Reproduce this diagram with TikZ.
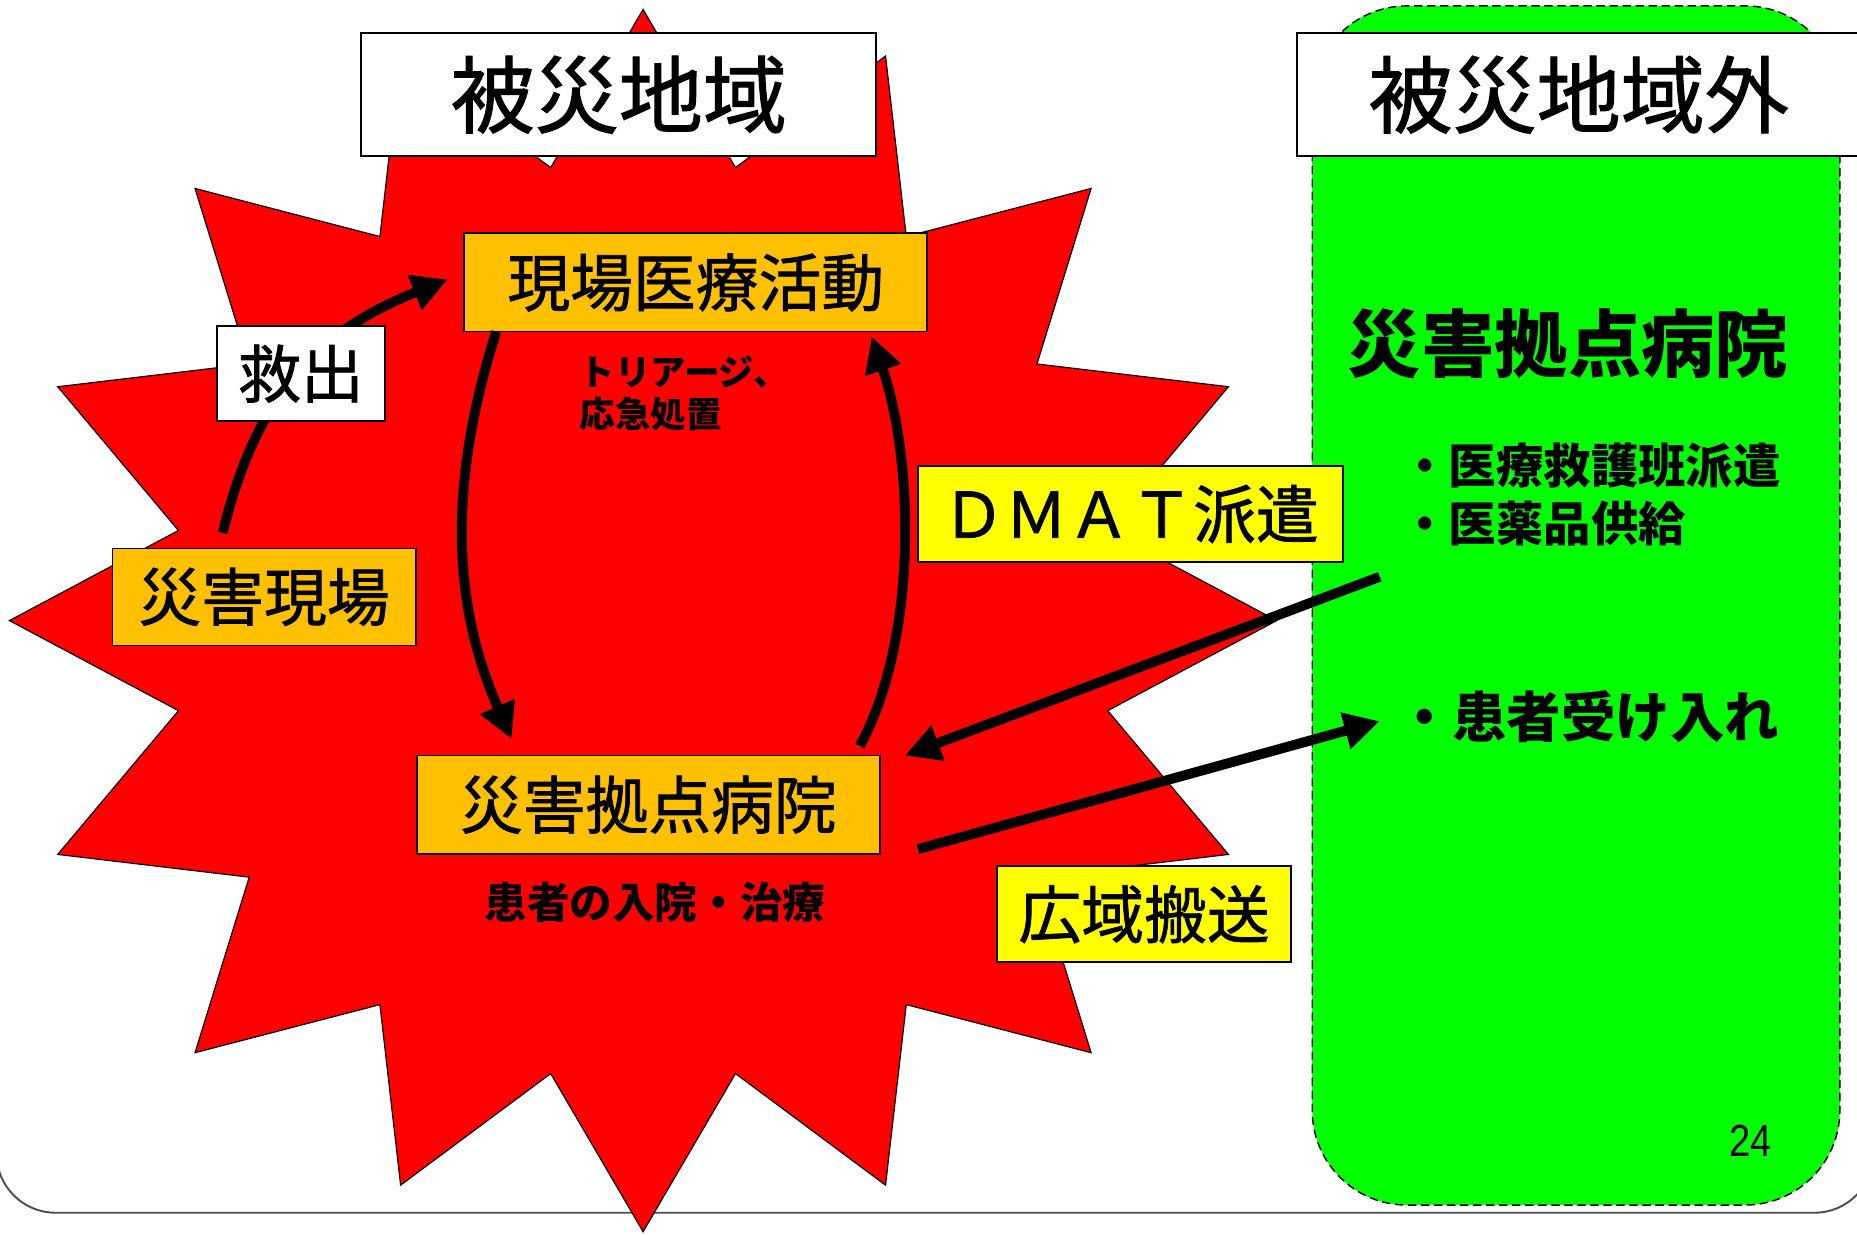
\documentclass[tikz,border=0pt]{standalone}
\usepackage{fontspec}
\setmainfont{Liberation Sans}
\newfontfamily\jp{Noto Sans CJK JP}[FakeBold=1.2]
\newfontfamily\jpbold{Noto Sans CJK JP}
\newfontfamily\pagefont{Liberation Sans}[FakeStretch=0.85]
\usetikzlibrary{arrows.meta}
\definecolor{starred}{RGB}{255,0,0}
\definecolor{boxorange}{RGB}{255,192,0}
\definecolor{boxyellow}{RGB}{255,255,0}
\definecolor{areagreen}{RGB}{0,255,0}
\begin{document}
\begin{tikzpicture}[x=0.5pt,y=-0.5pt,
  titlebox/.style={draw=black, line width=0.8pt, fill=white, inner sep=0pt,
    font=\jp\fontsize{35.5pt}{36pt}\selectfont},
  labelbox/.style={draw=black, line width=0.7pt, inner sep=0pt,
    font=\jp\fontsize{26.5pt}{27pt}\selectfont},
  orangebox/.style={labelbox, fill=boxorange},
  yellowbox/.style={labelbox, fill=boxyellow},
  whitebox/.style={labelbox, fill=white},
  bigarrow/.style={line width=4.2pt, -{Triangle[length=15pt,width=15pt]}},
  boldtext/.style={inner sep=0pt, font=\jpbold\bfseries\fontsize{#1}{#1}\selectfont},
]
\useasboundingbox (0,0) rectangle (1568,1042);
% slide border
\draw[black!70, line width=0.8pt, rounded corners=25pt] (-3,-100) rectangle (1582,1024);
% green area
\draw[fill=areagreen, draw=black, line width=0.6pt, dash pattern=on 3.5pt off 2pt, rounded corners=40pt]
  (1108,5) rectangle (1553.5,1017.5);
% star
\filldraw[fill=starred, draw=black, line width=0.5pt] (543,8)
  \foreach \k in {0,...,15} {
    -- ({543+400*sin(\k*22.5+11.25)},{524-390*cos(\k*22.5+11.25)})
    -- ({543+535*sin(\k*22.5+22.5)},{524-516*cos(\k*22.5+22.5)})
  } -- cycle;

% nodes
\node[titlebox, minimum width=217.5pt, minimum height=52pt] (area) at (522.5,80) {被災地域};
\node[titlebox, minimum width=238pt, minimum height=52pt] (outside) at (1333,80) {被災地域外};

\node[orangebox, minimum width=195.5pt, minimum height=41.5pt] (katsudo) at (587.5,238.5) {現場医療活動};
\node[orangebox, minimum width=128pt, minimum height=41pt] (genba) at (223,504) {災害現場};
\node[orangebox, minimum width=195.5pt, minimum height=41.5pt] (kyoten) at (547.5,679.5) {災害拠点病院};
\node[yellowbox, minimum width=179.5pt, minimum height=40.5pt] (dmat) at (954.5,434) {ＤＭＡＴ派遣};
\node[yellowbox, minimum width=124pt, minimum height=40.5pt] (koiki) at (966,772) {広域搬送};

\node[inner sep=0pt, anchor=north west, align=left, font=\jpbold\bfseries\fontsize{15pt}{18pt}\selectfont] (triage) at (489,300) {トリアージ、\\応急処置};
\node[boldtext=18pt] (nyuin) at (553,762) {患者の入院・治療};

\node[boldtext=31pt] (gtitle) at (1324,290) {災害拠点病院};
\node[boldtext=20pt, anchor=west] (haken) at (1183,393) {・医療救護班派遣};
\node[boldtext=20pt, anchor=west] (kyokyu) at (1183,442) {・医薬品供給};
\node[boldtext=23pt, anchor=west] (ukeire) at (1180,605) {・患者受け入れ};
\node[font=\pagefont\fontsize{19pt}{19pt}\selectfont, inner sep=0pt] (page) at (1478,963) {24};

% arrow end points
\coordinate (a1s) at (188,450);
\coordinate (a1e) at (378,236);
\coordinate (a2s) at (419,280);
\coordinate (a2e) at (432,624);
\coordinate (a3s) at (726,630);
\coordinate (a3e) at (736,284);
\coordinate (a4s) at (1165,487);
\coordinate (a4e) at (764,638);
\coordinate (a5s) at (775,717);
\coordinate (a5e) at (1165,609);

% arrows
\draw[bigarrow] (a1s) .. controls (215,340) and (262,282) .. (a1e);
\draw[bigarrow] (a2s) .. controls (378,410) and (382,510) .. (a2e);
\draw[bigarrow] (a3s) .. controls (775,540) and (772,390) .. (a3e);
\draw[bigarrow] (a4s) -- (a4e);
\draw[bigarrow] (a5s) -- (a5e);

% rescue box over arrow
\node[whitebox, minimum width=71pt, minimum height=40pt] (kyushutsu) at (254,315.5) {救出};
\end{tikzpicture}
\end{document}
